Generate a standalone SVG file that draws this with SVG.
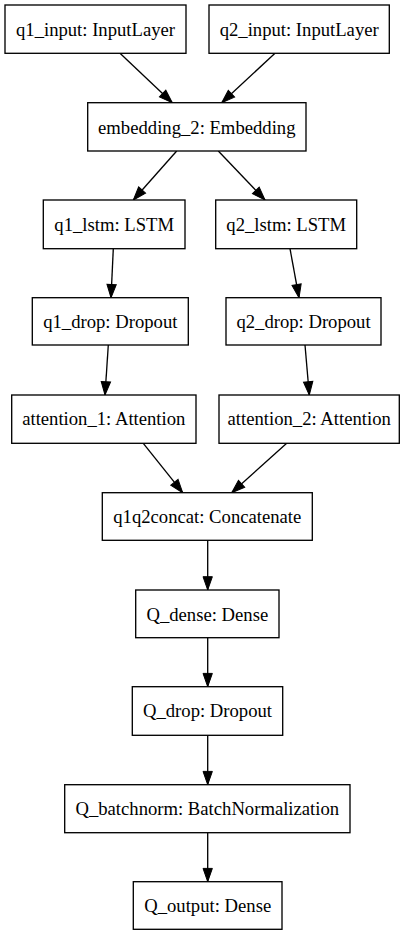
<svg xmlns="http://www.w3.org/2000/svg" width="409" height="936" viewBox="0 0 409 936">
<style>
.n rect{fill:#fff;stroke:#000;stroke-width:1.33}
.n text{font-family:"Liberation Serif","Times New Roman",serif;font-size:18.67px;text-anchor:middle;fill:#000}
.e line{stroke:#000;stroke-width:1.33;marker-end:url(#ah)}
</style>
<defs>
<marker id="ah" markerUnits="userSpaceOnUse" markerWidth="14" markerHeight="10" refX="13.3" refY="4.67" orient="auto" overflow="visible">
<path d="M0,0 L13.3,4.67 L0,9.33 z" fill="#000" stroke="#000" stroke-width="1"/>
</marker>
</defs>
<rect width="409" height="936" fill="#fff"/>
<g id="edges" class="e">
<line x1="120" y1="53.3" x2="172.3" y2="102.7"/>
<line x1="275" y1="53.3" x2="221.7" y2="102.7"/>
<line x1="176.7" y1="151" x2="133.3" y2="200"/>
<line x1="218.3" y1="151" x2="265" y2="200"/>
<line x1="113.3" y1="248.7" x2="111" y2="297.7"/>
<line x1="290" y1="248.7" x2="299" y2="297.7"/>
<line x1="108.3" y1="345" x2="105" y2="395"/>
<line x1="305" y1="345" x2="309.3" y2="395"/>
<line x1="143.3" y1="443.3" x2="182.7" y2="492.7"/>
<line x1="286.7" y1="443.3" x2="231.7" y2="492.7"/>
<line x1="207.7" y1="540.3" x2="207.7" y2="590"/>
<line x1="207.7" y1="637.7" x2="207.7" y2="686.7"/>
<line x1="207.7" y1="735.3" x2="207.7" y2="784.7"/>
<line x1="207.7" y1="832.7" x2="207.7" y2="881.7"/>
</g>
<g id="q1_input" class="n"><rect x="5" y="5" width="181" height="48.3"/><text x="95.5" y="36">q1_input: InputLayer</text></g>
<g id="q2_input" class="n"><rect x="209" y="5" width="180.3" height="48.3"/><text x="299.2" y="36">q2_input: InputLayer</text></g>
<g id="embedding_2" class="n"><rect x="87.7" y="102.7" width="218.3" height="48.3"/><text x="196.8" y="133.7">embedding_2: Embedding</text></g>
<g id="q1_lstm" class="n"><rect x="43.3" y="200" width="141.7" height="48.7"/><text x="114.2" y="231">q1_lstm: LSTM</text></g>
<g id="q2_lstm" class="n"><rect x="215.7" y="200" width="141" height="48.7"/><text x="286.2" y="231">q2_lstm: LSTM</text></g>
<g id="q1_drop" class="n"><rect x="32.3" y="297.7" width="156" height="47.3"/><text x="110.3" y="327.7">q1_drop: Dropout</text></g>
<g id="q2_drop" class="n"><rect x="226" y="297.7" width="155" height="47.3"/><text x="303.5" y="327.7">q2_drop: Dropout</text></g>
<g id="attention_1" class="n"><rect x="11.7" y="395" width="184.3" height="48.3"/><text x="103.8" y="425.3">attention_1: Attention</text></g>
<g id="attention_2" class="n"><rect x="219" y="395" width="180.3" height="48.3"/><text x="309.2" y="425.3">attention_2: Attention</text></g>
<g id="q1q2concat" class="n"><rect x="102.3" y="492.7" width="210" height="47.6"/><text x="207.3" y="523.3">q1q2concat: Concatenate</text></g>
<g id="Q_dense" class="n"><rect x="135.7" y="590" width="143.3" height="47.7"/><text x="207.3" y="620.7">Q_dense: Dense</text></g>
<g id="Q_drop" class="n"><rect x="132.3" y="686.7" width="150.4" height="48.6"/><text x="207.5" y="717.3">Q_drop: Dropout</text></g>
<g id="Q_batchnorm" class="n"><rect x="64.7" y="784.7" width="285.3" height="48"/><text x="207.3" y="815.3">Q_batchnorm: BatchNormalization</text></g>
<g id="Q_output" class="n"><rect x="133.3" y="881.7" width="148.7" height="47.6"/><text x="207.7" y="912.3">Q_output: Dense</text></g>
</svg>
